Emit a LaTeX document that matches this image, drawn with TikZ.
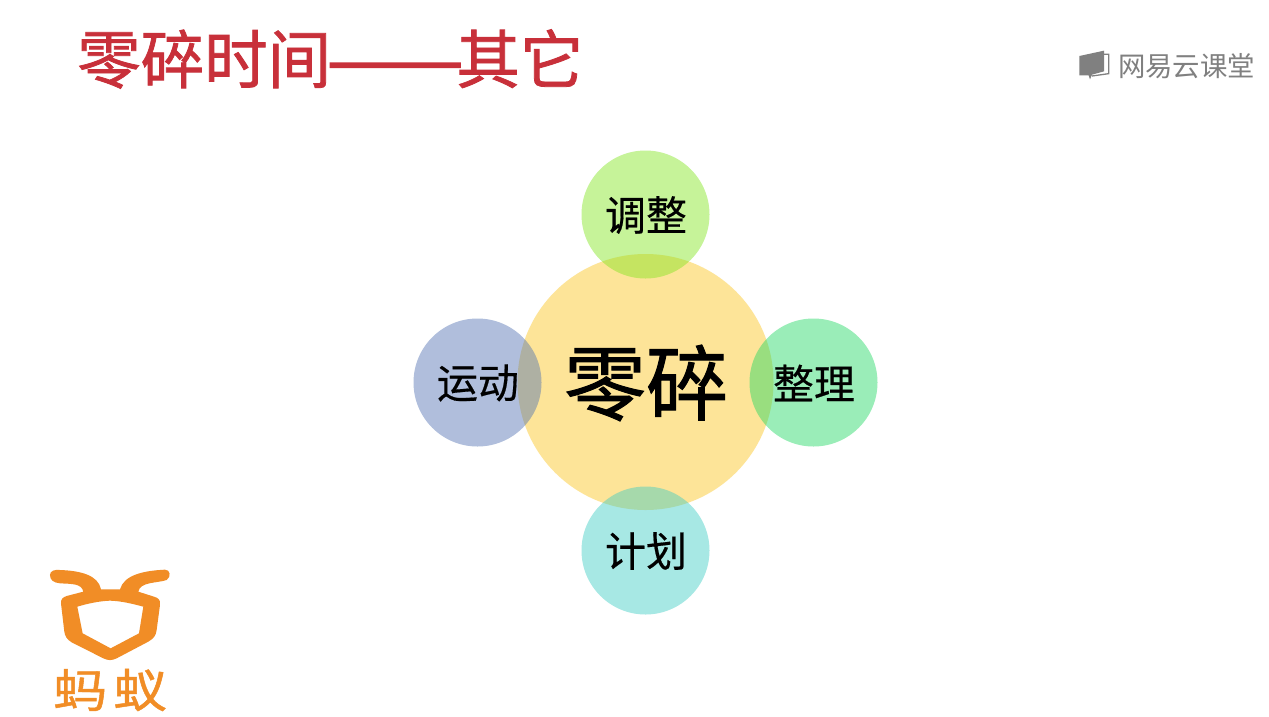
\documentclass[tikz,border=0pt]{standalone}
\usepackage{fontspec}
\setmainfont{Noto Sans CJK SC}
\definecolor{titlered}{HTML}{C8303A}
\definecolor{logoorange}{HTML}{F18D26}
\definecolor{logogray}{HTML}{808080}
\definecolor{cA}{RGB}{251,196,27}
\definecolor{cTop}{RGB}{129,229,31}
\definecolor{cLeft}{RGB}{80,113,178}
\definecolor{cRight}{RGB}{33,216,98}
\definecolor{cBottom}{RGB}{62,204,196}
\tikzset{
  disc/.style={circle,inner sep=0pt,outer sep=0pt,minimum size=128pt,fill opacity=.45,text opacity=1},
  bigdisc/.style={circle,inner sep=0pt,outer sep=0pt,minimum size=256pt,fill=cA,fill opacity=.45},
  lbl/.style={inner sep=0pt,font=\addfontfeature{FakeBold=0.4}\fontsize{41}{41}\selectfont,text=black},
  logotxt/.style={inner sep=0pt,xscale=1.17,font=\addfontfeature{FakeBold=1}\fontsize{46}{46}\selectfont,text=logoorange}
}
\begin{document}
\begin{tikzpicture}[x=1pt,y=-1pt]
\useasboundingbox (0,0) rectangle (1269,716);
\fill[white] (0,0) rectangle (1269,716);
\node[anchor=west,inner sep=0pt,text=titlered,font=\addfontfeature{FakeBold=1.2}\fontsize{63.5}{63.5}\selectfont] (title) at (77,59) {零碎时间\kern-4pt\scalebox{1.28}[1]{\addfontfeature{FakeBold=3}——}\kern-7pt其它};
\node[bigdisc] (c) at (645.5,382) {};
\node[disc,fill=cTop] (t) at (645.5,214.5) {};
\node[disc,fill=cLeft] (l) at (477.5,382.5) {};
\node[disc,fill=cRight] (r) at (813.5,382.5) {};
\node[disc,fill=cBottom] (b) at (645.5,550.5) {};
\node[inner sep=0pt,font=\addfontfeature{FakeBold=1.2}\fontsize{82}{82}\selectfont] (ct) at (646,383) {零碎};
\node[lbl] (tt) at (646,215) {调整};
\node[lbl] (lt) at (478,383) {运动};
\node[lbl] (rt) at (814,383) {整理};
\node[lbl] (bt) at (646,551) {计划};
% NetEase logo
\begin{scope}[shift={(1060,30)},x=.3333pt,y=-.3333pt]
\fill[logogray] (58,78) -- (132,62) -- (132,124) -- (96,134) -- (90,148) -- (86,136) -- (58,136) -- cycle;
\draw[logogray,line width=1.3pt] (132,73) -- (146,73) -- (146,131) -- (96,138);
\end{scope}
\node[inner sep=0pt,text=logogray,font=\fontsize{27.4}{27.4}\selectfont] (brand) at (1186.5,66) {网易云课堂};
% Ant logo
\begin{scope}[shift={(0,550)},x=.3333pt,y=-.3333pt]
\fill[logoorange,even odd rule]
 (150,75) .. controls (150,62) and (165,58) .. (180,60)
 .. controls (240,62) and (295,75) .. (303,118)
 -- (360,118)
 .. controls (372,75) and (430,62) .. (495,59)
 .. controls (510,58) and (515,80) .. (500,90)
 .. controls (470,100) and (420,95) .. (415,125)
 -- (462,140) .. controls (476,144) and (482,150) .. (480,165)
 -- (470,240) .. controls (468,256) and (462,265) .. (445,275)
 -- (350,325) .. controls (335,332) and (325,332) .. (310,325)
 -- (215,277) .. controls (200,268) and (195,258) .. (193,245)
 -- (183,160) .. controls (182,148) and (188,142) .. (200,138)
 -- (250,125) .. controls (245,100) and (215,102) .. (180,100)
 .. controls (160,98) and (150,90) .. (150,75) -- cycle
 (232,170) .. controls (265,160) and (300,153) .. (330,152)
 .. controls (365,153) and (400,162) .. (430,170)
 -- (417,250) -- (332,295) -- (248,250) -- cycle;
\end{scope}
\node[logotxt] (m) at (80,690) {蚂};
\node[logotxt] (y) at (140,690) {蚁};
\end{tikzpicture}
\end{document}
